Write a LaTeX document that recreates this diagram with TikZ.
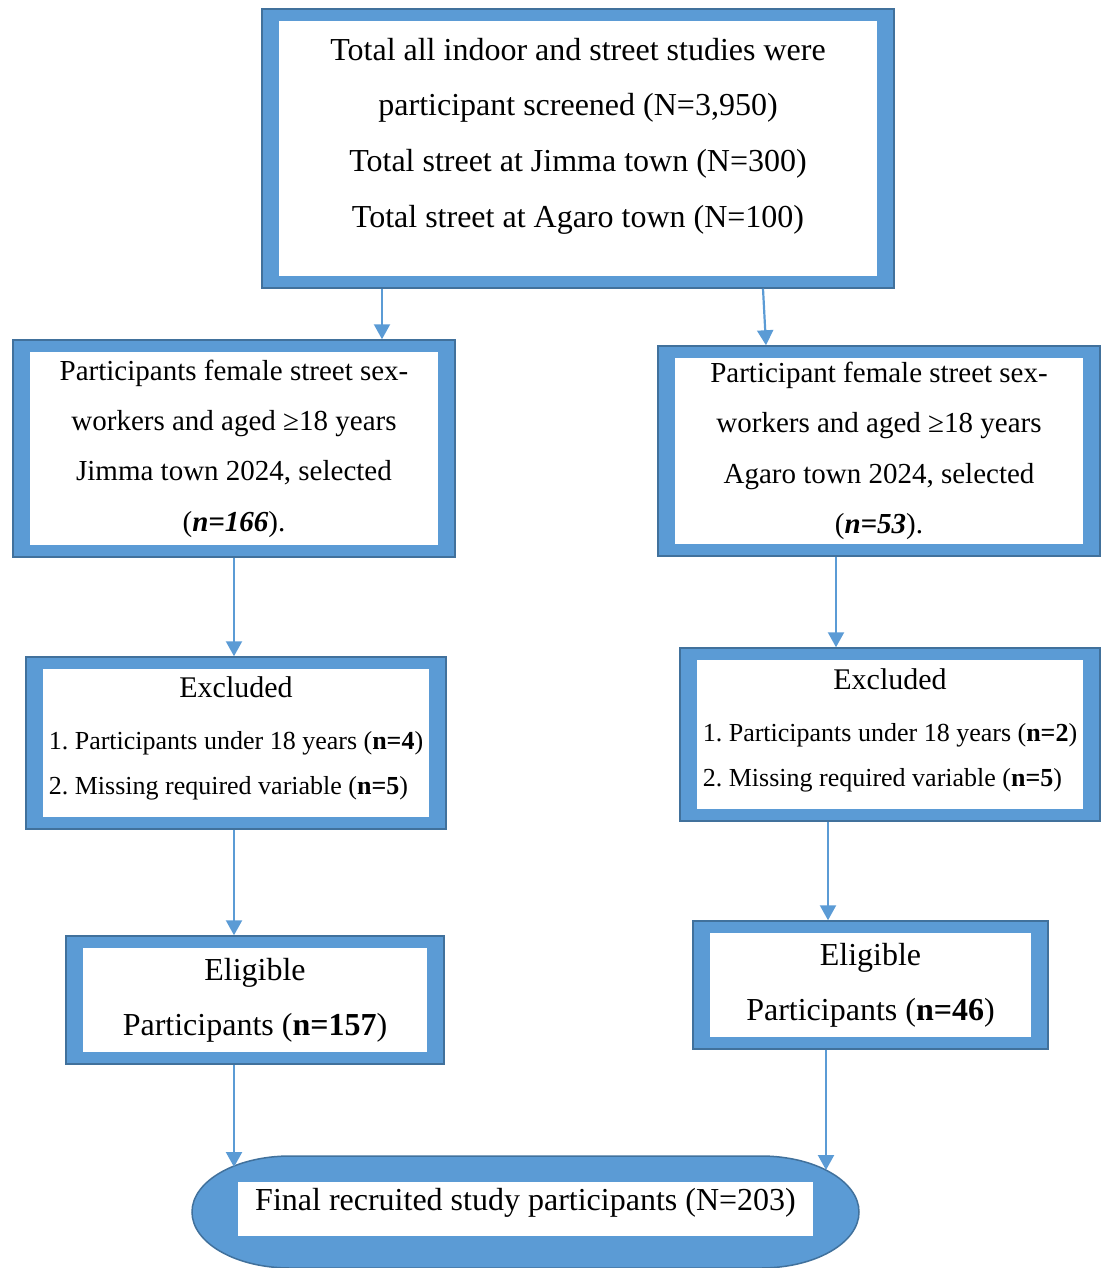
\documentclass[tikz,border=0pt]{standalone}
\usepackage{fontspec}
\setmainfont{Liberation Serif}
\usepackage{tikz}
\usetikzlibrary{arrows.meta,backgrounds}

\definecolor{boxblue}{RGB}{91,155,213}
\definecolor{edgeblue}{RGB}{65,113,156}
\frenchspacing

\begin{document}
\begin{tikzpicture}[x=1pt,y=1pt,
    flowbox/.style={rectangle,draw=edgeblue,line width=1.5pt,fill=boxblue,inner sep=0pt,align=center,
      path picture={\fill[white] ([xshift=17pt,yshift=-12pt]path picture bounding box.north west) rectangle ([xshift=-17pt,yshift=12pt]path picture bounding box.south east);}},
    flowarrow/.style={draw=boxblue,line width=2.2pt,-{Triangle[width=16pt,length=15pt]}},
    bigfont/.style={font=\fontsize{32}{55.6}\selectfont},
    midfont/.style={font=\fontsize{29}{50.3}\selectfont},
    smallfont/.style={font=\fontsize{26}{45}\selectfont}]
    \useasboundingbox (0,0) rectangle (1103,-1268);

    \node[flowbox,bigfont,minimum width=632pt,minimum height=279pt] (top) at (578,-148.5)
        {\raisebox{16pt}[\height][\depth]{\begin{tabular}{@{}c@{}}Total all indoor and street studies were\\
        participant screened (N=3,950)\\ Total street at Jimma town (N=300)\\
        Total street at Agaro town (N=100)\end{tabular}}};
    \node[flowbox,midfont,minimum width=442pt,minimum height=217pt] (jimma) at (234,-448.5)
        {Participants female street sex-\\workers and aged ≥18 years\\Jimma town 2024, selected\\(\textbf{\textit{n=166}}).};
    \node[flowbox,midfont,minimum width=442pt,minimum height=210pt] (agaro) at (879,-451)
        {Participant female street sex-\\workers and aged ≥18 years\\Agaro town 2024, selected\\(\textbf{\textit{n=53}}).};
    \node[flowbox,smallfont,minimum width=420pt,minimum height=172pt] (exJ) at (236,-743)
        {\raisebox{6pt}[\height][\depth]{\begin{tabular}{@{}l@{}}\multicolumn{1}{@{}c@{}}{\fontsize{30}{45}\selectfont Excluded}\\[7pt]
        1. Participants under 18 years (\textbf{n=4})\\ 2. Missing required variable (\textbf{n=5})\end{tabular}}};
    \node[flowbox,smallfont,minimum width=420pt,minimum height=173pt] (exA) at (890,-734.5)
        {\raisebox{6pt}[\height][\depth]{\begin{tabular}{@{}l@{}}\multicolumn{1}{@{}c@{}}{\fontsize{30}{45}\selectfont Excluded}\\[7pt]
        1. Participants under 18 years (\textbf{n=2})\\ 2. Missing required variable (\textbf{n=5})\end{tabular}}};
    \node[flowbox,font=\fontsize{32}{55}\selectfont,minimum width=378pt,minimum height=128pt] (eligJ) at (255,-1000)
        {Eligible\\Participants (\textbf{n=157})};
    \node[flowbox,font=\fontsize{32}{55}\selectfont,minimum width=355pt,minimum height=128pt] (eligA) at (870.5,-985)
        {Eligible\\Participants (\textbf{n=46})};

    % final box
    \node[fill=white,bigfont,minimum width=575pt,minimum height=54pt,inner sep=0pt,
        text height=22pt,text depth=20pt] (final) at (525.5,-1209) {Final recruited study participants (N=203)};
    \begin{scope}[on background layer]
        \draw[edgeblue,line width=1.5pt,fill=boxblue] (290,-1156) -- (761,-1156)
            arc[start angle=90,end angle=-90,x radius=98,y radius=56] -- (290,-1268)
            arc[start angle=270,end angle=90,x radius=98,y radius=56] -- cycle;
    \end{scope}
    \coordinate (capL) at (234,-1167);
    \coordinate (capR) at (826,-1170);

    \draw[flowarrow] ([xshift=-196pt]top.south) to ([xshift=148pt]jimma.north);
    \draw[flowarrow] ([xshift=185pt]top.south) to ([xshift=-113pt]agaro.north);
    \draw[flowarrow] (jimma.south) to (jimma.south |- exJ.north);
    \draw[flowarrow] ([xshift=-43pt]agaro.south) to ([xshift=-54pt]exA.north);
    \draw[flowarrow] ([xshift=-2pt]exJ.south) to ([xshift=-21pt]eligJ.north);
    \draw[flowarrow] ([xshift=-62pt]exA.south) to ([xshift=-42.5pt]eligA.north);
    \draw[flowarrow] ([xshift=-21pt]eligJ.south) to (capL);
    \draw[flowarrow] ([xshift=-44.5pt]eligA.south) to (capR);
\end{tikzpicture}
\end{document}
